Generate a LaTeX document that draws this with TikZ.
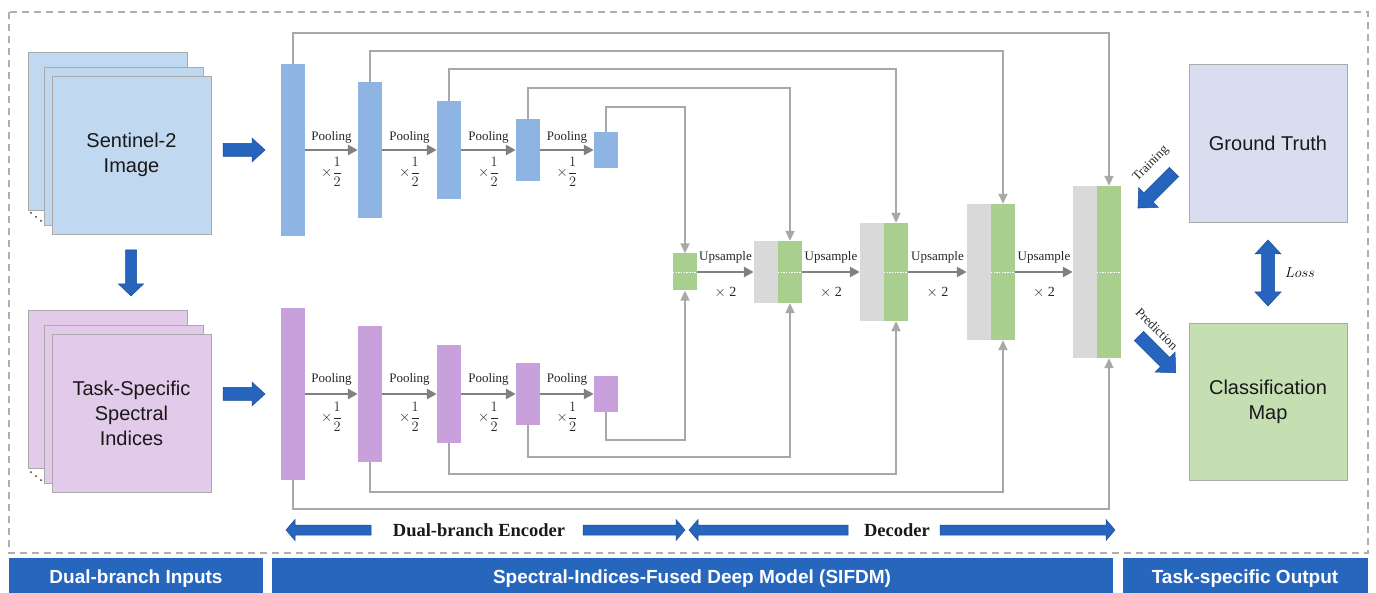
\documentclass[tikz,border=0pt]{standalone}
\usepackage{amsmath}
\usepackage{fontspec}
\setmainfont{Liberation Serif}
\newfontfamily\sansf{Liberation Sans}
\usetikzlibrary{arrows.meta}
\definecolor{encblue}{RGB}{142,180,227}
\definecolor{encpurple}{RGB}{200,160,220}
\definecolor{decgreen}{RGB}{169,207,142}
\definecolor{decgray}{RGB}{217,217,217}
\definecolor{sheetblue}{RGB}{192,216,240}
\definecolor{sheetpurple}{RGB}{226,202,234}
\definecolor{gtfill}{RGB}{216,222,240}
\definecolor{cmfill}{RGB}{197,222,178}
\definecolor{bandblue}{RGB}{38,102,188}
\definecolor{arrowblue}{RGB}{38,100,190}
\definecolor{arrowedge}{RGB}{28,76,150}
\definecolor{skipgray}{RGB}{168,168,168}
\definecolor{poolgray}{RGB}{128,128,128}
\definecolor{sheetedge}{RGB}{170,170,170}
\definecolor{boxgray}{RGB}{175,175,175}

% block arrow: x y angle length shaft-half head-half head-length
\newcommand{\bigarrow}[7]{%
\begin{scope}[shift={(#1,#2)},rotate=#3]
\filldraw[fill=arrowblue,draw=arrowedge,line width=0.5pt]
 (0,-#5) -- ({#4-#7},-#5) -- ({#4-#7},-#6) -- (#4,0) -- ({#4-#7},#6) -- ({#4-#7},#5) -- (0,#5) -- cycle;
\end{scope}}
% double block arrow
\newcommand{\dblbigarrow}[7]{%
\begin{scope}[shift={(#1,#2)},rotate=#3]
\filldraw[fill=arrowblue,draw=arrowedge,line width=0.5pt]
 (0,0) -- (#7,-#6) -- (#7,-#5) -- ({#4-#7},-#5) -- ({#4-#7},-#6) -- (#4,0) -- ({#4-#7},#6) -- ({#4-#7},#5) -- (#7,#5) -- (#7,#6) -- cycle;
\end{scope}}

\tikzset{
 encb/.style={fill=encblue,draw=none,minimum width=24pt,inner sep=0pt},
 encp/.style={fill=encpurple,draw=none,minimum width=24pt,inner sep=0pt},
 decg/.style={fill=decgreen,draw=none,minimum width=24pt,inner sep=0pt},
 decy/.style={fill=decgray,draw=none,minimum width=24pt,inner sep=0pt},
 sheet/.style={draw=sheetedge,line width=0.8pt,minimum width=159pt,minimum height=158pt,inner sep=0pt},
 bigbox/.style={draw=sheetedge,line width=0.8pt,minimum width=158pt,minimum height=158pt,inner sep=0pt,
   font=\fontsize{20}{25}\selectfont\sansf,align=center,text=black!90},
 sheettxt/.style={font=\fontsize{20}{25}\selectfont\sansf,align=center,text=black!90},
 skip/.style={draw=skipgray,line width=2pt,-{Triangle[length=10pt,width=9pt]}},
 poolarr/.style={draw=poolgray,line width=2.6pt,-{Triangle[length=10pt,width=10pt]}},
 poollbl/.style={font=\fontsize{13}{15}\selectfont,text=black!85,inner sep=0pt},
 fraclbl/.style={font=\fontsize{13.5}{15}\selectfont,text=black!85,inner sep=0pt},
 midline/.style={draw=white,line width=0.8pt,dash pattern=on 1.5pt off 1.2pt},
 band/.style={fill=bandblue,draw=none,inner sep=0pt},
 bandtxt/.style={font=\fontsize{19}{22}\selectfont\sansf\bfseries,text=white,inner sep=0pt},
 parttxt/.style={font=\fontsize{18.5}{21}\selectfont\bfseries,text=black!90,inner sep=0pt},
 sidetxt/.style={font=\fontsize{13}{15}\selectfont,text=black!85,inner sep=0pt},
 dotn/.style={circle,fill=black!80,inner sep=0pt,minimum size=2pt}
}

\begin{document}
\begin{tikzpicture}[x=1pt,y=-1pt]
\useasboundingbox (0,0) rectangle (1376,593);
\fill[white] (0,0) rectangle (1376,593);

% outer dashed frame
\draw[boxgray,line width=1.3pt,dash pattern=on 7pt off 5pt] (9,12) rectangle (1368,553);

% bottom bands
\node[band,minimum width=254pt,minimum height=35pt] (bandL) at (136,575.5) {};
\node[band,minimum width=841pt,minimum height=35pt] (bandM) at (692.5,575.5) {};
\node[band,minimum width=245pt,minimum height=35pt] (bandR) at (1245.5,575.5) {};
\node[bandtxt] (bandLt) at (136,579) {Dual-branch Inputs};
\node[bandtxt] (bandMt) at (692,579) {Spectral-Indices-Fused Deep Model (SIFDM)};
\node[bandtxt] (bandRt) at (1245,579) {Task-specific Output};

% input stacks
\node[sheet,fill=sheetblue] (s1c) at (107.5,131) {};
\node[sheet,fill=sheetblue] (s1b) at (123.5,146.5) {};
\node[sheet,fill=sheetblue,sheettxt] (s1a) at (131.5,155) {Sentinel-2\\Image};
\node[dotn] (s1d1) at (31,213) {};
\node[dotn] (s1d2) at (36,217) {};
\node[dotn] (s1d3) at (41,221) {};

\node[sheet,fill=sheetpurple] (s2c) at (107.5,389.5) {};
\node[sheet,fill=sheetpurple] (s2b) at (123.5,404) {};
\node[sheet,fill=sheetpurple,sheettxt] (s2a) at (131.5,413) {Task-Specific\\Spectral\\Indices};
\node[dotn] (s2d1) at (31,472) {};
\node[dotn] (s2d2) at (36,476) {};
\node[dotn] (s2d3) at (41,480) {};

% input arrows
\bigarrow{131}{250}{-90}{46}{5.5}{12.5}{12}
\bigarrow{223}{150}{0}{42}{6.5}{12}{13}
\bigarrow{223}{394}{0}{42}{6.5}{12}{13}

% encoder bars
\foreach \i/\x/\h in {1/293/172,2/370/136,3/449/98,4/528/62,5/606/36} {
  \node[encb,minimum height=\h pt] (eb\i) at (\x,150) {};
  \node[encp,minimum height=\h pt] (ep\i) at (\x,394) {};
}

% decoder
\node[decg,minimum height=37pt] (dg1) at (685,272) {};
\foreach \i/\x/\h in {2/766/62,3/872/98,4/979/136,5/1085/172} {
  \node[decy,minimum height=\h pt] (dy\i) at (\x,272) {};
  \node[decg,minimum height=\h pt] (dg\i) at (\x+24,272) {};
}
\foreach \i in {1,...,5} { \draw[midline] (dg\i.west) -- (dg\i.east); }

% pooling arrows
\foreach \i/\j in {1/2,2/3,3/4,4/5} {
  \draw[poolarr] (eb\i.east) -- (eb\j.west)
    node[poollbl,midway,yshift=13pt] (ptb\i) {Pooling}
    node[fraclbl,midway,yshift=-22pt] (pfb\i) {$\times\dfrac{1}{2}$};
  \draw[poolarr] (ep\i.east) -- (ep\j.west)
    node[poollbl,midway,yshift=15pt] (ptp\i) {Pooling}
    node[fraclbl,midway,yshift=-23pt] (pfp\i) {$\times\dfrac{1}{2}$};
}

% upsample arrows
\foreach \i/\j in {1/2,2/3,3/4,4/5} {
  \draw[poolarr] (dg\i.east) -- (dy\j.west)
    node[poollbl,midway,yshift=15pt] (us\i) {Upsample}
    node[poollbl,midway,yshift=-20pt,font=\fontsize{14}{16}\selectfont] (ux\i) {$\times$ 2};
}

% skip connections
\foreach \i/\j/\yt/\yb in {1/5/33/509,2/4/51/492,3/3/69/474,4/2/88/457,5/1/107/440} {
  \coordinate (lt\i) at (0,\yt);
  \coordinate (lb\i) at (0,\yb);
  \draw[skip] (eb\i.north) -- (eb\i.north |- lt\i) -| (dg\j.north);
  \draw[skip] (ep\i.south) -- (ep\i.south |- lb\i) -| (dg\j.south);
}

% encoder / decoder spans
\node[parttxt] (enct) at (479,530) {Dual-branch Encoder};
\node[parttxt] (dect) at (897,530) {Decoder};
\bigarrow{371}{530}{180}{85}{5}{10.5}{9}
\bigarrow{583}{530}{0}{102}{5}{10.5}{9}
\bigarrow{848}{530}{180}{159}{5}{10.5}{9}
\bigarrow{940}{530}{0}{175}{5}{10.5}{9}

% outputs
\node[bigbox,fill=gtfill] (gt) at (1268,143) {Ground Truth};
\node[bigbox,fill=cmfill,minimum height=157pt] (cm) at (1268,401.5) {Classification\\Map};
\dblbigarrow{1268}{306}{90}{66}{6.5}{13}{14}
\node[font=\fontsize{15}{17}\selectfont,inner sep=0pt] (loss) at (1300,273) {$Loss$};

\bigarrow{1174}{172}{-135}{51}{6.5}{14}{15}
\bigarrow{1139}{336}{-45}{52}{6.5}{14}{15}
\node[sidetxt,rotate=45] (train) at (1151,164) {Training};
\node[sidetxt,rotate=-45] (pred) at (1157,329) {Prediction};
\end{tikzpicture}
\end{document}
